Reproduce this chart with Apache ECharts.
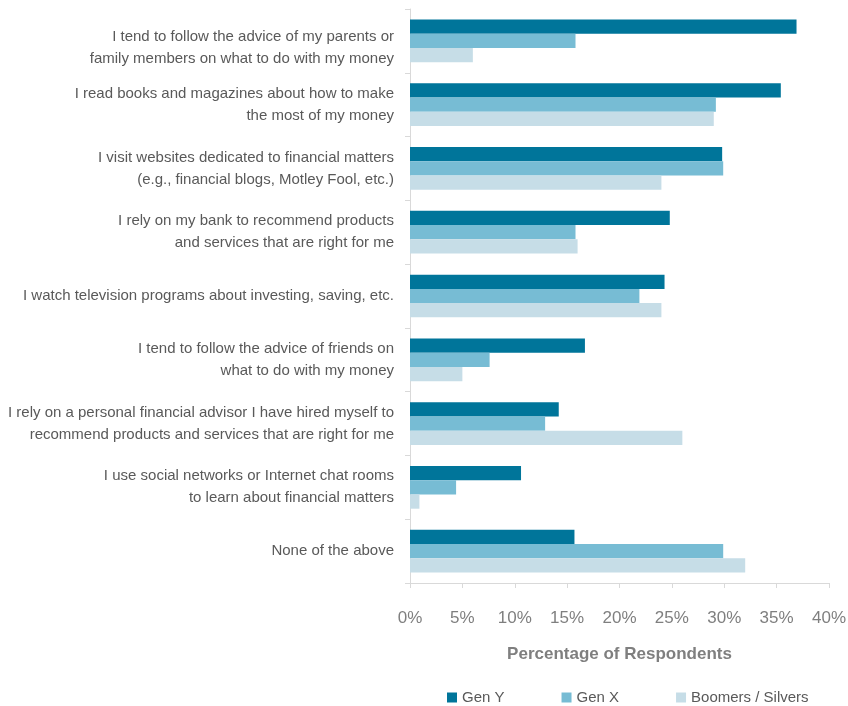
<!DOCTYPE html>
<html>
<head>
<meta charset="utf-8">
<script src="https://cdn.jsdelivr.net/npm/echarts@6/dist/echarts.min.js"></script>
<style>
  html, body { margin: 0; padding: 0; background: #ffffff; }
  #chart { width: 848px; height: 706px; }
</style>
</head>
<body>
<div id="chart"></div>
<script>
// Survey statements (top to bottom as displayed)
const categories = [
  'I tend to follow the advice of my parents or\nfamily members on what to do with my money',
  'I read books and magazines about how to make\nthe most of my money',
  'I visit websites dedicated to financial matters\n(e.g., financial blogs, Motley Fool, etc.)',
  'I rely on my bank to recommend products\nand services that are right for me',
  'I watch television programs about investing, saving, etc.',
  'I tend to follow the advice of friends on\nwhat to do with my money',
  'I rely on a personal financial advisor I have hired myself to\nrecommend products and services that are right for me',
  'I use social networks or Internet chat rooms\nto learn about financial matters',
  'None of the above'
];

// Percentage of respondents per generation
const genY     = [36.9, 35.4, 29.8, 24.8, 24.3, 16.7, 14.2, 10.6, 15.7];
const genX     = [15.8, 29.2, 29.9, 15.8, 21.9,  7.6, 12.9,  4.4, 29.9];
const boomers  = [ 6.0, 29.0, 24.0, 16.0, 24.0,  5.0, 26.0,  0.9, 32.0];

const seriesNames = ['Gen Y', 'Gen X', 'Boomers / Silvers'];
const xTicks = [0, 5, 10, 15, 20, 25, 30, 35, 40];

const FONT = "'Liberation Sans', Arial, sans-serif";

const chart = echarts.init(document.getElementById('chart'), null, { renderer: 'canvas' });

const colors = ['#00759a', '#77bcd4', '#c6dde7'];
const values = [genY, genX, boomers];

// the top label sits a little lower: a short spacer line above it
function labelFormatter(value, index) {
  if (index !== 0) return value;
  return '{gap| }\n' + value.split('\n').map(l => '{t|' + l + '}').join('\n');
}

chart.setOption({
  backgroundColor: '#ffffff',
  animation: false,
  grid: { left: 410, right: 19, top: 9, bottom: 123, containLabel: false, outerBoundsMode: 'none' },
  legend: {
    data: seriesNames,
    left: 442,
    top: 685,
    itemWidth: 10,
    itemHeight: 10,
    itemGap: 57,
    icon: 'rect',
    textStyle: { color: '#595959', fontSize: 15, fontFamily: FONT }
  },
  xAxis: {
    type: 'value',
    min: xTicks[0],
    max: xTicks[xTicks.length - 1],
    interval: 5,
    name: 'Percentage of Respondents',
    nameLocation: 'middle',
    nameGap: 63,
    nameTextStyle: { color: '#7f7f7f', fontSize: 17, fontWeight: 'bold', fontFamily: FONT, verticalAlign: 'top' },
    axisLine: { show: true, lineStyle: { color: '#d9d9d9', width: 1 } },
    axisTick: { show: true, length: 5, lineStyle: { color: '#d9d9d9' } },
    splitLine: { show: false },
    axisLabel: {
      formatter: v => v + '%',
      color: '#7f7f7f',
      fontSize: 17,
      fontFamily: FONT,
      margin: 27
    }
  },
  yAxis: {
    type: 'category',
    data: categories,
    inverse: true,
    axisLine: { show: true, lineStyle: { color: '#d9d9d9', width: 1 } },
    axisTick: { show: true, length: 5, lineStyle: { color: '#d9d9d9' } },
    axisLabel: {
      color: '#595959',
      fontSize: 15,
      lineHeight: 22,
      fontFamily: FONT,
      margin: 16,
      align: 'right',
      formatter: labelFormatter,
      rich: {
        gap: { fontSize: 2, lineHeight: 13 },
        t: { color: '#595959', fontSize: 15, lineHeight: 22, fontFamily: FONT }
      }
    }
  },
  series: seriesNames.map((name, i) => ({
    name,
    type: 'bar',
    data: values[i],
    barGap: '0%',
    barCategoryGap: '33%',
    itemStyle: { color: colors[i] }
  }))
});
</script>
</body>
</html>
